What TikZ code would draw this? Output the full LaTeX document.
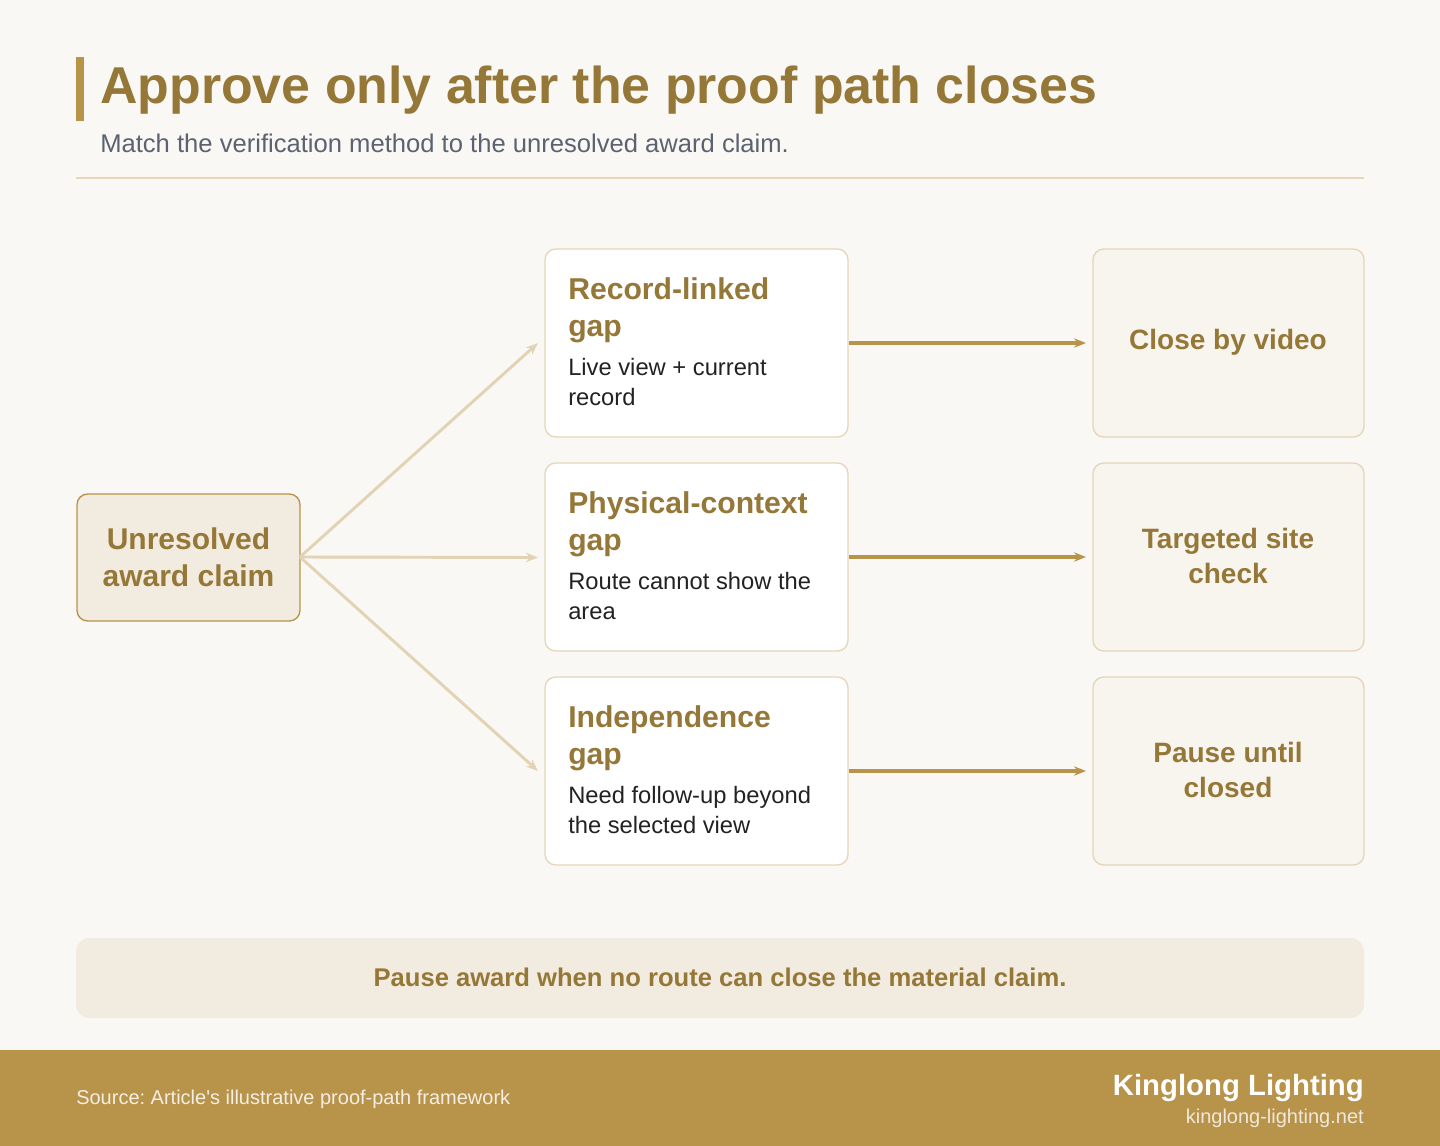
\documentclass[tikz,border=0pt]{standalone}
\usepackage{fontspec}
\setmainfont{Liberation Sans}
\usetikzlibrary{arrows.meta}
\definecolor{bg}{HTML}{FAF8F4}
\definecolor{gold}{HTML}{957738}
\definecolor{accent}{HTML}{B8934A}
\definecolor{lightbox}{HTML}{F2EBDF}
\definecolor{rbox}{HTML}{F8F5EF}
\definecolor{bord}{HTML}{E6D5B8}
\definecolor{larrow}{HTML}{E3D3B5}
\definecolor{dark}{HTML}{222222}
\definecolor{sub}{HTML}{5B6270}
\frenchspacing
\begin{document}
\begin{tikzpicture}[x=0.75pt,y=-0.75pt,
  mid/.style={draw=bord,line width=1pt,fill=white,rounded corners=8pt},
  rgt/.style={draw=bord,line width=1pt,fill=rbox,rounded corners=8pt},
  mtitle/.style={anchor=north west,align=left,font=\bfseries\fontsize{22.6}{28}\selectfont,text=gold,inner sep=0pt},
  mbody/.style={anchor=north west,align=left,font=\fontsize{17.8}{22.5}\selectfont,text=dark,inner sep=0pt},
  rtext/.style={align=center,font=\bfseries\fontsize{21}{26}\selectfont,text=gold},
  la/.style={draw=larrow,line width=2.2pt,-{Stealth[length=9pt,width=7pt]}},
  ra/.style={draw=accent,line width=2.6pt,-{Stealth[length=9pt,width=7pt]}}]
\useasboundingbox (0,0) rectangle (1440,1146);
\fill[bg] (0,0) rectangle (1440,1146);
\fill[accent] (76,57) rectangle (84,121);
\node[anchor=base west,inner sep=0pt,font=\bfseries\fontsize{38.9}{42}\selectfont,text=gold] (title) at (100,103) {Approve only after the proof path closes};
\node[anchor=base west,inner sep=0pt,font=\fontsize{19.2}{22}\selectfont,text=sub] (subtitle) at (100,152) {Match the verification method to the unresolved award claim.};
\draw[bord,line width=1.5pt] (76,178) -- (1364,178);

\node[draw=accent,line width=1pt,fill=lightbox,rounded corners=8pt,minimum width=223pt*0.75,minimum height=127pt*0.75,align=center,font=\bfseries\fontsize{22.5}{28}\selectfont,text=gold] (src) at (188.5,557.5) {Unresolved\\award claim};

\draw[mid] (545,249) rectangle (848,437);
\draw[mid] (545,463) rectangle (848,651);
\draw[mid] (545,677) rectangle (848,865);
\node[mtitle] (t1) at (568,277) {Record-linked\\gap};
\node[mbody] (b1) at (568,358) {Live view + current\\record};
\node[mtitle] (t2) at (568,491) {Physical-context\\gap};
\node[mbody] (b2) at (568,572) {Route cannot show the\\area};
\node[mtitle] (t3) at (568,705) {Independence\\gap};
\node[mbody] (b3) at (568,786) {Need follow-up beyond\\the selected view};

\draw[rgt] (1093,249) rectangle (1364,437);
\draw[rgt] (1093,463) rectangle (1364,651);
\draw[rgt] (1093,677) rectangle (1364,865);
\node[rtext] (r1) at (1228,342) {Close by video};
\node[rtext] (r2) at (1228,556) {Targeted site\\check};
\node[rtext] (r3) at (1228,770) {Pause until\\closed};

\coordinate (s) at (300,557);
\coordinate (m1w) at (538,343);
\coordinate (m2w) at (538,557.5);
\coordinate (m3w) at (538,771);
\draw[la] (s) -- (m1w);
\draw[la] (s) -- (m2w);
\draw[la] (s) -- (m3w);
\coordinate (m1e) at (849,343); \coordinate (r1w) at (1086,343);
\coordinate (m2e) at (849,557); \coordinate (r2w) at (1086,557);
\coordinate (m3e) at (849,771); \coordinate (r3w) at (1086,771);
\draw[ra] (m1e) -- (r1w);
\draw[ra] (m2e) -- (r2w);
\draw[ra] (m3e) -- (r3w);

\fill[lightbox,rounded corners=10pt] (76,938) rectangle (1364,1018);
\node[font=\bfseries\fontsize{19.2}{22}\selectfont,text=gold] (banner) at (720,977) {Pause award when no route can close the material claim.};

\fill[accent] (0,1050) rectangle (1440,1146);
\node[anchor=base west,inner sep=0pt,font=\fontsize{15}{18}\selectfont,text=bg!90!accent] (source) at (76,1104) {Source: Article\textquotesingle s illustrative proof-path framework};
\node[anchor=base east,inner sep=0pt,font=\bfseries\fontsize{22}{26}\selectfont,text=white] (brand) at (1364,1095) {Kinglong Lighting};
\node[anchor=base east,inner sep=0pt,font=\fontsize{15}{18}\selectfont,text=bg!85!accent] (url) at (1364,1123) {kinglong-lighting.net};
\end{tikzpicture}
\end{document}
